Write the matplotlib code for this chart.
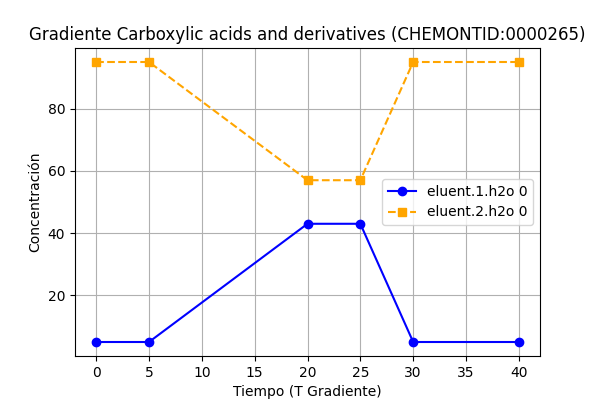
import matplotlib
matplotlib.use("Agg")
from matplotlib import pyplot as plt

tiempo = [0, 5, 20, 25, 30, 40]
eluent_1 = [5, 5, 43, 43, 5, 5]
eluent_2 = [95, 95, 57, 57, 95, 95]

fig, ax = plt.subplots(figsize=(6, 4), dpi=100)
ax.plot(tiempo, eluent_1, marker="o", linestyle="-", color="blue", label="eluent.1.h2o 0")
ax.plot(tiempo, eluent_2, marker="s", linestyle="--", color="orange", label="eluent.2.h2o 0")
ax.set_title("Gradiente Carboxylic acids and derivatives (CHEMONTID:0000265)")
ax.set_xlabel("Tiempo (T Gradiente)")
ax.set_ylabel("Concentración")
ax.grid(True)
ax.legend(loc="center right")
fig.savefig("out.png")
